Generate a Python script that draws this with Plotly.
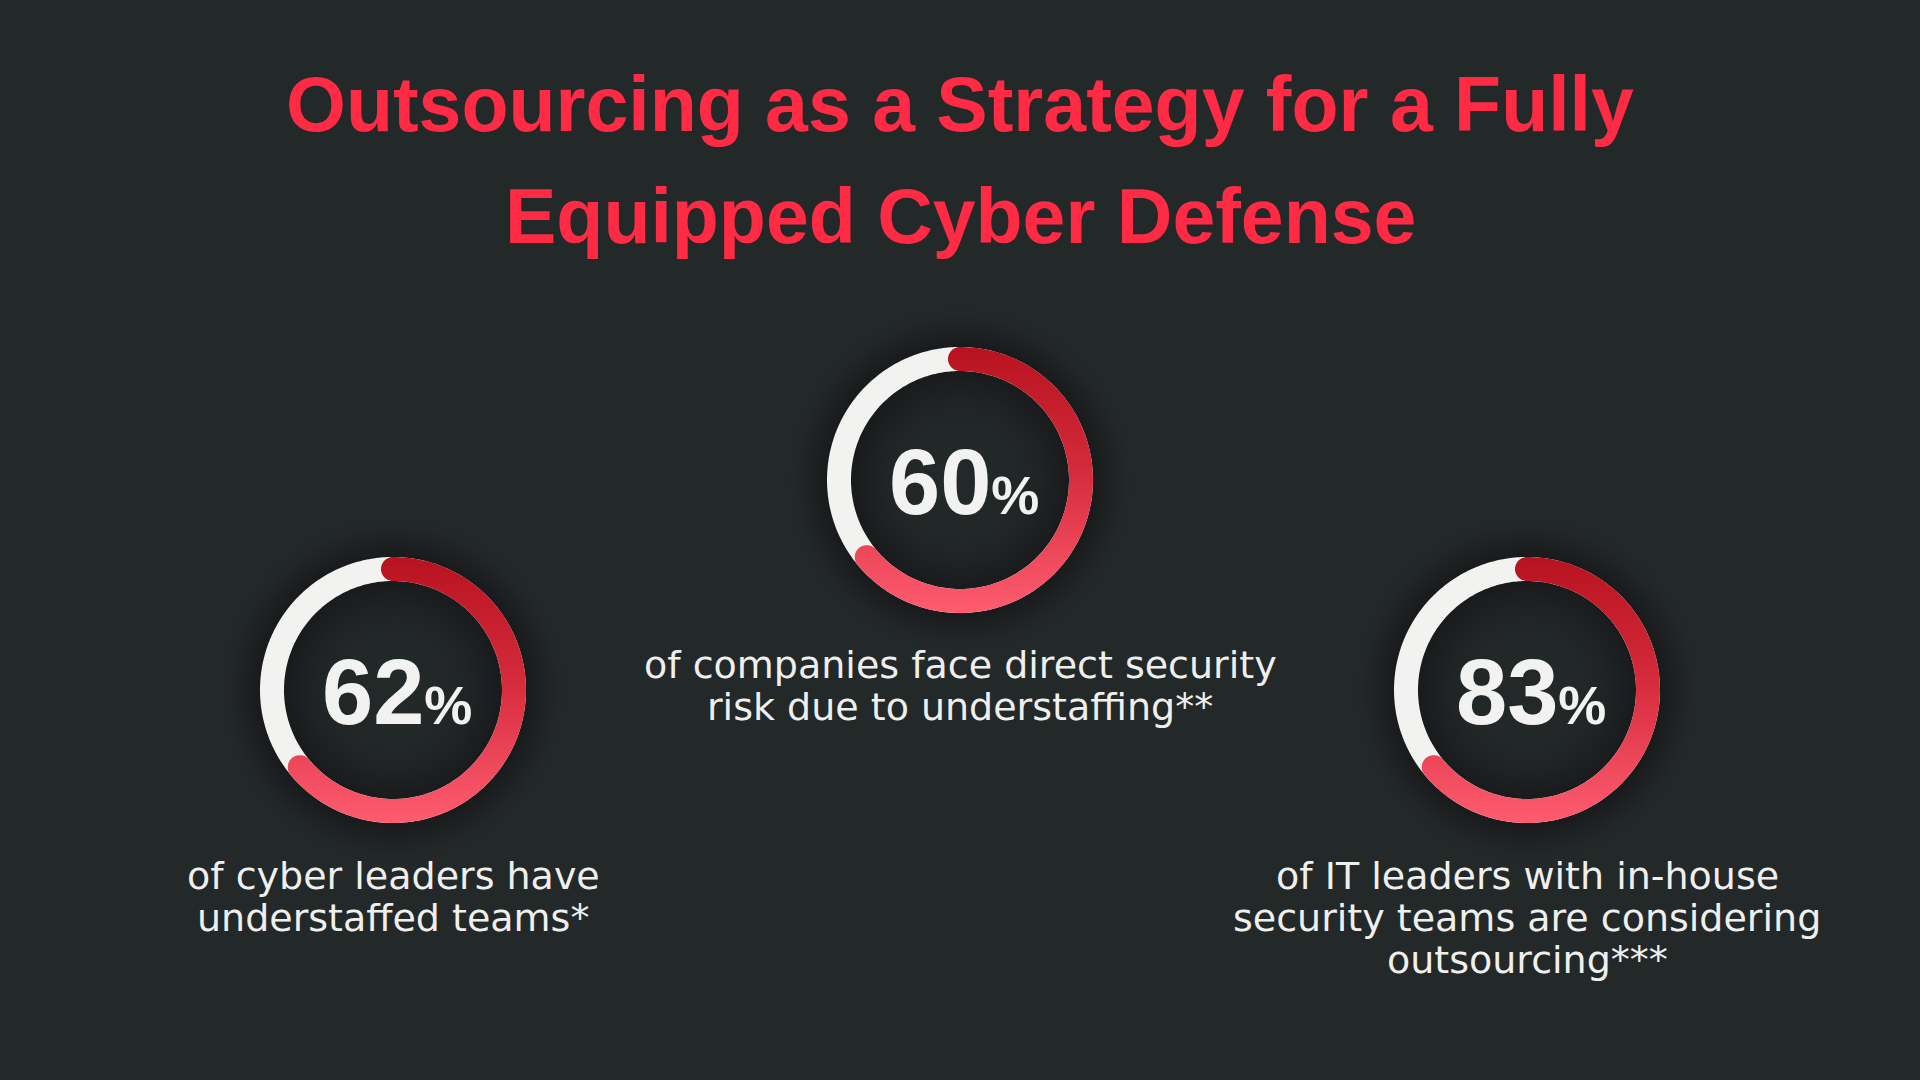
import numpy as np
import plotly.graph_objects as go

# --- data ----------------------------------------------------------------
title_lines = ["Outsourcing as a Strategy for a Fully", "Equipped Cyber Defense"]
stat_values = [62, 60, 83]
# share of each ring that is drawn red in the picture (all three rings look the same)
arc_share = [0.64, 0.64, 0.64]
descriptions = [
    ["of cyber leaders have", "understaffed teams*"],
    ["of companies face direct security", "risk due to understaffing**"],
    ["of IT leaders with in-house", "security teams are considering", "outsourcing***"],
]

# --- layout / style -------------------------------------------------------
W, H = 1920, 1080
BG = "#232829"
TITLE_RED = "#FF2B45"
WHITE = "#F2F2F0"
centers = [(393, 690), (960, 480), (1527, 690)]
R_OUT, R_IN = 133, 109
R_MID, HALF = (R_OUT + R_IN) / 2, (R_OUT - R_IN) / 2
desc_top = [876, 665, 876]
desc_step = 42


def ring_point(cx, cy, r, phi):
    # phi measured clockwise from 12 o'clock, y axis points down
    return cx + r * np.sin(phi), cy - r * np.cos(phi)


def arc_polygon(cx, cy, share, n=160):
    phi1 = 2 * np.pi * share
    phis = np.linspace(0, phi1, n)
    ox, oy = ring_point(cx, cy, R_OUT, phis)
    ix, iy = ring_point(cx, cy, R_IN, phis[::-1])
    a = np.linspace(0, np.pi, 30)
    # rounded end cap
    ex, ey = ring_point(cx, cy, R_MID, phi1)
    nx, ny = np.sin(phi1), -np.cos(phi1)
    tx, ty = np.cos(phi1), np.sin(phi1)
    cap1x = ex + HALF * (np.cos(a) * nx + np.sin(a) * tx)
    cap1y = ey + HALF * (np.cos(a) * ny + np.sin(a) * ty)
    # rounded start cap (sticks out to the left of 12 o'clock)
    sx, sy = ring_point(cx, cy, R_MID, 0.0)
    a0 = a[::-1]
    cap0x = sx - HALF * np.sin(a0)
    cap0y = sy - HALF * np.cos(a0)
    xs = np.concatenate([ox, cap1x, ix, cap0x])
    ys = np.concatenate([oy, cap1y, iy, cap0y])
    return xs, ys


def circle(cx, cy, r, n=180):
    t = np.linspace(0, 2 * np.pi, n)
    return cx + r * np.cos(t), cy + r * np.sin(t)


fig = go.Figure()
annotations = []

for (cx, cy), val, share, lines, top in zip(centers, stat_values, arc_share, descriptions, desc_top):
    # soft shadow around the ring
    hx, hy = circle(cx, cy, 178)
    fig.add_trace(go.Scatter(
        x=hx, y=hy, mode="lines", fill="toself", line=dict(width=0, simplify=False),
        fillgradient=dict(type="radial", colorscale=[
            [0.0, "rgba(35,40,41,0)"], [0.35, "rgba(28,30,32,0.2)"],
            [0.6, "rgba(18,18,20,0.6)"], [0.76, "rgba(18,18,20,0.6)"],
            [0.86, "rgba(22,22,24,0.3)"], [1.0, "rgba(35,40,41,0)"]]),
        hoverinfo="skip", showlegend=False))

    # white track
    tx_, ty_ = circle(cx, cy, R_MID, 360)
    fig.add_trace(go.Scatter(
        x=tx_, y=ty_, mode="lines",
        line=dict(color=WHITE, width=R_OUT - R_IN, simplify=False),
        hoverinfo="skip", showlegend=False))

    # red arc with gradient
    ax, ay = arc_polygon(cx, cy, share)
    fig.add_trace(go.Scatter(
        x=ax, y=ay, mode="lines", fill="toself", line=dict(width=0, simplify=False),
        fillgradient=dict(type="vertical", start=cy - R_OUT, stop=cy + R_OUT,
                          colorscale=[[0.0, "#B8121F"], [0.45, "#D42A3B"], [1.0, "#FF5C70"]]),
        hoverinfo="skip", showlegend=False))

    # percentage
    annotations.append(dict(
        x=cx + 4, y=cy + 2, xref="x", yref="y", showarrow=False,
        text=f"{val}<span style='font-size:54px'>%</span>",
        font=dict(family="Liberation Sans, Arial, sans-serif", size=92, color=WHITE, weight=700),
        xanchor="center", yanchor="middle"))

    # description lines
    for i, line in enumerate(lines):
        annotations.append(dict(
            x=cx, y=top + i * desc_step, xref="x", yref="y", showarrow=False, text=line,
            font=dict(family="DejaVu Sans, sans-serif", size=38, color="#EFEFED"),
            xanchor="center", yanchor="middle"))

for i, line in enumerate(title_lines):
    annotations.append(dict(
        x=960, y=104 + i * 112, xref="x", yref="y", showarrow=False, text=line,
        font=dict(family="Liberation Sans, Arial, sans-serif", size=77, color=TITLE_RED, weight=700),
        xanchor="center", yanchor="middle"))

fig.update_layout(
    width=W, height=H, margin=dict(l=0, r=0, t=0, b=0),
    paper_bgcolor=BG, plot_bgcolor=BG,
    xaxis=dict(range=[0, W], visible=False, fixedrange=True),
    yaxis=dict(range=[H, 0], visible=False, fixedrange=True),
    annotations=annotations, showlegend=False,
)

fig.write_html("out.html", config={"displayModeBar": False},
               post_script="document.body.style.margin='0';")
